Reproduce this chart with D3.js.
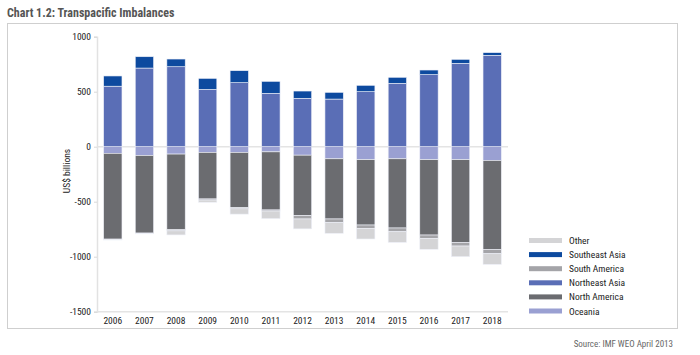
<!DOCTYPE html>
<html lang="en">
<head>
    <meta charset="UTF-8">
    <title>Transpacific Imbalances</title>
    <script src="https://cdn.jsdelivr.net/npm/d3@7"></script>
    <style>
        body { margin: 0; background: #fff; }
        text { font-family: "Liberation Sans Narrow", "Roboto Condensed", "Arial Narrow", "Liberation Sans", sans-serif; }
    </style>
</head>
<body>
    <script>
        // data (US$ billions)
        var years = ['2006', '2007', '2008', '2009', '2010', '2011', '2012', '2013', '2014', '2015', '2016', '2017', '2018'];
        var northeastAsia = [550, 715, 727, 521, 582, 485, 440, 433, 500, 576, 655, 758, 831];
        var southeastAsia = [93, 103, 70, 100, 109, 109, 66, 61, 58, 55, 42, 36, 24];
        var oceania = [-60, -80, -67, -52, -52, -47, -77, -110, -118, -110, -118, -118, -125];
        var northAmerica = [-780, -705, -688, -423, -501, -528, -550, -547, -594, -629, -685, -752, -808];
        var southAmerica = [-6, -5, -10, -10, -12, -10, -30, -34, -31, -34, -33, -33, -40];
        var other = [-2, -2, -37, -20, -48, -69, -90, -97, -96, -97, -97, -97, -97];
        var yTicks = [1000, 500, 0, -500, -1000, -1500];

        var legendOrder = ['Other', 'Southeast Asia', 'South America', 'Northeast Asia', 'North America', 'Oceania'];

        var colors = {
            'Oceania': '#9aa0d2',
            'North America': '#6b6c70',
            'South America': '#a4a4a8',
            'Other': '#d4d4d6',
            'Northeast Asia': '#5a6eb6',
            'Southeast Asia': '#0d4a9f'
        };

        var w = 700;
        var h = 355;

        // build rows for the stack
        var keys = ['Oceania', 'North America', 'South America', 'Other', 'Northeast Asia', 'Southeast Asia'];
        var seriesValues = {
            'Oceania': oceania,
            'North America': northAmerica,
            'South America': southAmerica,
            'Other': other,
            'Northeast Asia': northeastAsia,
            'Southeast Asia': southeastAsia
        };
        var rows = years.map(function(y, i) {
            var r = { year: y };
            keys.forEach(function(k) { r[k] = seriesValues[k][i]; });
            return r;
        });

        var stacked = d3.stack()
            .keys(keys)
            .offset(d3.stackOffsetDiverging)(rows);

        var svg = d3.select('body')
            .append('svg')
            .attr('width', w)
            .attr('height', h);

        // title
        svg.append('text')
            .attr('x', 7)
            .attr('y', 17)
            .attr('font-size', 12)
            .attr('font-weight', 'bold')
            .attr('fill', '#555')
            .text('Chart 1.2: Transpacific Imbalances');

        // outer frame
        svg.append('rect')
            .attr('x', 7.5)
            .attr('y', 23.5)
            .attr('width', 670)
            .attr('height', 305)
            .attr('fill', 'none')
            .attr('stroke', '#cfcfcf');

        var xScale = d3.scaleBand()
            .domain(years)
            .range([97, 508])
            .paddingInner(0.42)
            .paddingOuter(0.21);

        var yScale = d3.scaleLinear()
            .domain([-1500, 1000])
            .range([311.7, 36.7]);

        // y axis, plain hyphen for negatives like the original
        var yAxis = d3.axisLeft(yScale)
            .tickValues(yTicks)
            .tickSize(3)
            .tickPadding(3)
            .tickFormat(function(d) { return String(d); });

        var yg = svg.append('g')
            .attr('transform', 'translate(97,0)')
            .call(yAxis);
        yg.select('.domain').attr('stroke', '#e2e2e2').attr('stroke-width', 1.5);
        yg.selectAll('.tick line').attr('stroke', '#d8d8d8');
        yg.selectAll('.tick text')
            .attr('font-size', 9.5)
            .attr('fill', '#222');

        // zero and bottom lines
        svg.append('line')
            .attr('x1', 97).attr('x2', 508)
            .attr('y1', yScale(0)).attr('y2', yScale(0))
            .attr('stroke', '#e4e4e4')
            .attr('stroke-width', 1.5);

        svg.append('line')
            .attr('x1', 97).attr('x2', 508)
            .attr('y1', yScale(-1500)).attr('y2', yScale(-1500))
            .attr('stroke', '#e4e4e4')
            .attr('stroke-width', 1.5);

        // bars
        svg.append('g')
            .selectAll('g')
            .data(stacked)
            .enter()
            .append('g')
            .attr('fill', function(d) { return colors[d.key]; })
            .selectAll('rect')
            .data(function(d) { return d; })
            .enter()
            .append('rect')
            .attr('x', function(d) { return xScale(d.data.year); })
            .attr('width', xScale.bandwidth())
            .attr('y', function(d) { return yScale(Math.max(d[0], d[1])); })
            .attr('height', function(d) { return Math.abs(yScale(d[0]) - yScale(d[1])); })
            .attr('stroke', '#eef0f8')
            .attr('stroke-width', 0.6);

        // x labels
        var xAxis = d3.axisBottom(xScale).tickSize(0).tickPadding(6);
        var xg = svg.append('g')
            .attr('transform', 'translate(0,' + yScale(-1500) + ')')
            .call(xAxis);
        xg.select('.domain').remove();
        xg.selectAll('.tick text')
            .attr('font-size', 9.5)
            .attr('fill', '#222');

        // y axis title
        svg.append('text')
            .attr('transform', 'translate(70,171) rotate(-90)')
            .attr('text-anchor', 'middle')
            .attr('font-size', 9.5)
            .attr('fill', '#222')
            .text('US$ billions');

        // legend
        var legend = svg.append('g')
            .selectAll('g')
            .data(legendOrder)
            .enter()
            .append('g')
            .attr('transform', function(d, i) { return 'translate(529,' + (240.5 + i * 14.1) + ')'; });

        legend.append('rect')
            .attr('x', 0)
            .attr('y', -2.5)
            .attr('width', 33)
            .attr('height', 5)
            .attr('fill', function(d) { return colors[d]; });

        legend.append('text')
            .attr('x', 40)
            .attr('y', 3.5)
            .attr('font-size', 9.5)
            .attr('fill', '#222')
            .text(function(d) { return d; });

        // source
        svg.append('text')
            .attr('x', 673)
            .attr('y', 347)
            .attr('text-anchor', 'end')
            .attr('font-size', 9)
            .attr('fill', '#666')
            .text('Source: IMF WEO April 2013');
    </script>
</body>
</html>
